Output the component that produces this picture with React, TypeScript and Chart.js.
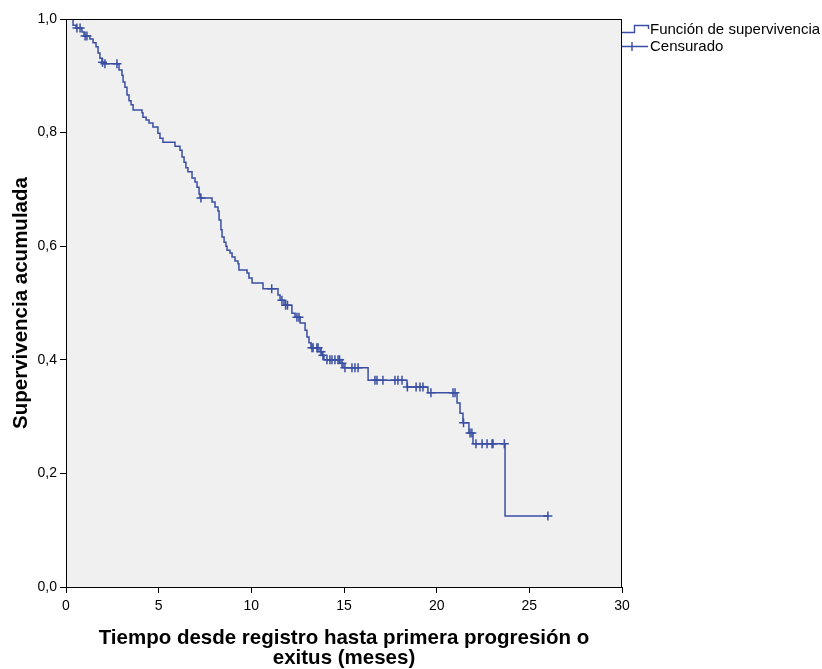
import React, { useEffect, useRef } from "react";
import { Chart, registerables } from "chart.js";

Chart.register(...registerables);

// Kaplan-Meier estimate: event times (months) and cumulative survival after each event
const eventTimes = [
  0.38, 0.54, 0.86, 0.97, 1.29, 1.46, 1.62, 1.73, 1.83, 1.94, 2.05, 2.86, 3.02, 3.08, 3.18, 3.29,
  3.4, 3.51, 3.62, 4.1, 4.15, 4.32, 4.48, 4.69, 4.96, 5.07, 5.23, 5.88, 6.15, 6.26, 6.37, 6.47,
  6.58, 6.8, 6.96, 7.07, 7.18, 7.23, 7.88, 8.04, 8.2, 8.26, 8.36, 8.42, 8.53, 8.63, 8.69, 8.85,
  8.96, 9.12, 9.28, 9.33, 9.77, 9.87, 10.04, 10.63, 11.44, 11.55, 11.76, 12.19, 12.36, 12.63,
  12.9, 13.0, 13.11, 13.22, 13.71, 13.81, 13.92, 14.78, 14.95, 16.3, 18.4, 19.53, 21.1, 21.26,
  21.42, 21.74, 21.96, 23.69,
];
const survival = [
  0.989, 0.984, 0.977, 0.97, 0.965, 0.958, 0.951, 0.94, 0.931, 0.924, 0.921, 0.91, 0.901, 0.889,
  0.88, 0.866, 0.856, 0.849, 0.84, 0.835, 0.827, 0.822, 0.817, 0.81, 0.799, 0.79, 0.783, 0.776,
  0.769, 0.757, 0.748, 0.738, 0.731, 0.72, 0.713, 0.704, 0.692, 0.685, 0.678, 0.669, 0.662, 0.646,
  0.629, 0.616, 0.607, 0.6, 0.593, 0.588, 0.581, 0.574, 0.569, 0.558, 0.553, 0.544, 0.535, 0.525,
  0.514, 0.505, 0.496, 0.482, 0.475, 0.465, 0.452, 0.44, 0.43, 0.421, 0.414, 0.408, 0.4, 0.394,
  0.386, 0.364, 0.352, 0.342, 0.324, 0.306, 0.289, 0.271, 0.252, 0.125,
];
// Censored observations (months)
const censorTimes = [
  0.59, 0.76, 1.03, 1.13, 1.97, 2.1, 2.75, 7.28, 11.1, 11.65, 11.85, 11.95, 12.46, 12.57, 13.27,
  13.33, 13.54, 13.6, 13.76, 13.86, 14.08, 14.24, 14.35, 14.51, 14.68, 14.76, 14.89, 15.05, 15.43,
  15.59, 15.76, 16.67, 16.78, 17.1, 17.75, 17.91, 18.13, 18.42, 18.89, 19.1, 19.26, 19.69, 20.88,
  20.99, 21.45, 21.8, 21.9, 22.12, 22.45, 22.72, 22.99, 23.04, 23.65, 26.0,
];
const xTicks = [0, 5, 10, 15, 20, 25, 30];
const yTicks = [0, 0.2, 0.4, 0.6, 0.8, 1.0];

const yTitle = "Supervivencia acumulada";
const xTitle = ["Tiempo desde registro hasta primera progresión o", "exitus (meses)"];
const legendLabels = ["Función de supervivencia", "Censurado"];

const LINE_COLOR = "#3a4fa3";
const FONT = "'Liberation Sans', Arial, sans-serif";

function survivalAt(t: number): number {
  let s = 1;
  for (let i = 0; i < eventTimes.length; i++) {
    if (eventTimes[i] <= t) s = survival[i];
  }
  return s;
}

const decorations = {
  id: "kmDecorations",
  beforeDraw(chart: any) {
    const { ctx, chartArea: a, width, height } = chart;
    ctx.save();
    ctx.fillStyle = "#ffffff";
    ctx.fillRect(0, 0, width, height);
    ctx.fillStyle = "#f0f0f0";
    ctx.fillRect(a.left, a.top, a.right - a.left, a.bottom - a.top);
    ctx.restore();
  },
  afterDraw(chart: any) {
    const { ctx, chartArea: a } = chart;
    ctx.save();
    // plot frame
    ctx.strokeStyle = "#000";
    ctx.lineWidth = 1;
    ctx.strokeRect(a.left + 0.5, a.top + 0.5, a.right - a.left - 1, a.bottom - a.top);

    // axis titles
    ctx.fillStyle = "#000";
    ctx.font = `bold 20.5px ${FONT}`;
    ctx.textAlign = "center";
    ctx.textBaseline = "middle";
    ctx.save();
    ctx.translate(21, (a.top + a.bottom) / 2);
    ctx.rotate(-Math.PI / 2);
    ctx.fillText(yTitle, 0, 0);
    ctx.restore();
    const cx = (a.left + a.right) / 2;
    ctx.fillText(xTitle[0], cx, 638);
    ctx.fillText(xTitle[1], cx, 658);

    // legend
    const lx = a.right;
    ctx.strokeStyle = LINE_COLOR;
    ctx.lineWidth = 1.4;
    ctx.beginPath();
    ctx.moveTo(lx, 32.5);
    ctx.lineTo(lx + 12.5, 32.5);
    ctx.lineTo(lx + 12.5, 25.5);
    ctx.lineTo(lx + 26.5, 25.5);
    ctx.lineTo(lx + 26.5, 29);
    ctx.stroke();
    ctx.beginPath();
    ctx.moveTo(lx, 46.5);
    ctx.lineTo(lx + 26, 46.5);
    ctx.moveTo(lx + 10, 42);
    ctx.lineTo(lx + 10, 51);
    ctx.stroke();
    ctx.fillStyle = "#000";
    ctx.font = `15px ${FONT}`;
    ctx.textAlign = "left";
    ctx.textBaseline = "alphabetic";
    ctx.fillText(legendLabels[0], lx + 28, 33.5);
    ctx.fillText(legendLabels[1], lx + 28, 51);
    ctx.restore();
  },
};

export default function App() {
  const canvasRef = useRef<HTMLCanvasElement | null>(null);

  useEffect(() => {
    const canvas = canvasRef.current;
    if (!canvas) return;

    const curve = [{ x: 0, y: 1 }];
    eventTimes.forEach((t, i) => curve.push({ x: t, y: survival[i] }));
    const lastCensor = censorTimes[censorTimes.length - 1];
    curve.push({ x: lastCensor, y: survivalAt(lastCensor) });
    const censored = censorTimes.map((t) => ({ x: t, y: survivalAt(t) }));

    const chart = new Chart(canvas, {
      type: "scatter",
      data: {
        datasets: [
          {
            label: legendLabels[0],
            data: curve,
            showLine: true,
            stepped: true,
            borderColor: LINE_COLOR,
            borderWidth: 1.5,
            pointRadius: 0,
            fill: false,
          },
          {
            label: legendLabels[1],
            data: censored,
            showLine: false,
            pointStyle: "cross",
            pointRadius: 4.5,
            borderColor: LINE_COLOR,
            borderWidth: 1.5,
          },
        ],
      },
      options: {
        responsive: false,
        animation: false,
        layout: { padding: { top: 19, right: 200, left: 0, bottom: 0 } },
        plugins: {
          legend: { display: false },
          tooltip: { enabled: false },
        },
        scales: {
          x: {
            type: "linear",
            min: 0,
            max: 30,
            afterFit: (s: any) => {
              s.height = 82;
            },
            afterBuildTicks: (s: any) => {
              s.ticks = xTicks.map((v) => ({ value: v }));
            },
            border: { display: false },
            grid: {
              drawOnChartArea: false,
              drawTicks: true,
              tickLength: 6,
              color: "#000",
            },
            ticks: {
              color: "#000",
              padding: 5,
              maxRotation: 0,
              font: { family: FONT, size: 14 },
              callback: (v: any) => String(v),
            },
          },
          y: {
            type: "linear",
            min: 0,
            max: 1,
            afterFit: (s: any) => {
              s.width = 66;
            },
            afterBuildTicks: (s: any) => {
              s.ticks = yTicks.map((v) => ({ value: v }));
            },
            border: { display: false },
            grid: {
              drawOnChartArea: false,
              drawTicks: true,
              tickLength: 6,
              color: "#000",
            },
            ticks: {
              color: "#000",
              padding: 3,
              font: { family: FONT, size: 14 },
              callback: (v: any) => Number(v).toFixed(1).replace(".", ","),
            },
          },
        },
      },
      plugins: [decorations],
    });

    return () => chart.destroy();
  }, []);

  return (
    <div style={{ position: "fixed", left: 0, top: 0, width: 822, height: 669 }}>
      <canvas ref={canvasRef} width={822} height={669} style={{ display: "block" }} />
    </div>
  );
}
